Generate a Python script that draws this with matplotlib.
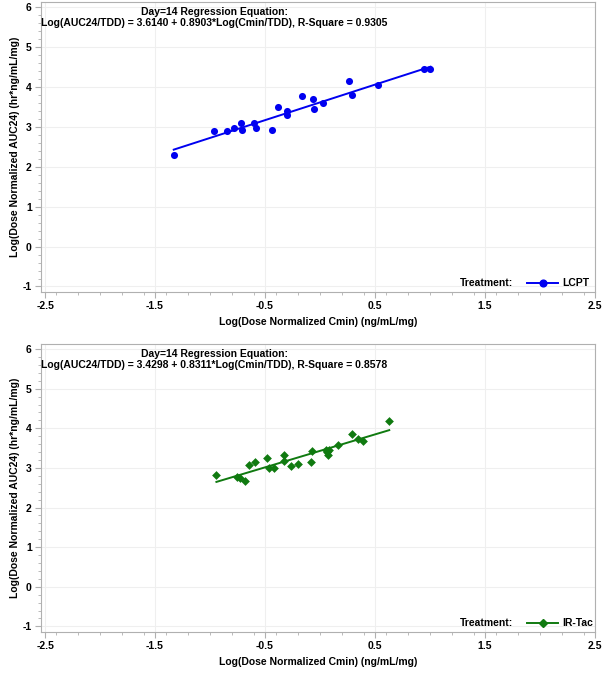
import numpy as np
import matplotlib.pyplot as plt
from matplotlib.ticker import MultipleLocator
from matplotlib.lines import Line2D

plt.rcParams["font.family"] = ["Liberation Sans", "DejaVu Sans"]
plt.rcParams["axes.unicode_minus"] = False

# LCPT, day 14
lcpt_x = [-1.33, -0.963, -0.842, -0.779, -0.718, -0.707, -0.604, -0.586, -0.432,
          -0.383, -0.296, -0.299, -0.160, -0.064, -0.057, 0.030, 0.263, 0.290,
          0.525, 0.945, 1.005]
lcpt_y = [2.30, 2.89, 2.89, 2.97, 3.09, 2.91, 3.09, 2.96, 2.92,
          3.49, 3.41, 3.29, 3.78, 3.69, 3.46, 3.59, 4.15, 3.79,
          4.06, 4.45, 4.44]
lcpt_fit = (3.6140, 0.8903, 0.9305)

# IR-Tac, day 14
irtac_x = [-0.942, -0.752, -0.730, -0.682, -0.645, -0.591, -0.479, -0.467, -0.421,
           -0.327, -0.327, -0.264, -0.203, -0.079, -0.076, 0.055, 0.070, 0.082,
           0.065, 0.167, 0.288, 0.345, 0.388, 0.630]
irtac_y = [2.81, 2.77, 2.74, 2.67, 3.07, 3.14, 3.25, 3.01, 3.00,
           3.33, 3.18, 3.04, 3.10, 3.16, 3.43, 3.44, 3.33, 3.46,
           3.39, 3.59, 3.86, 3.72, 3.69, 4.18]
irtac_fit = (3.4298, 0.8311, 0.8578)

xticks = [-2.5, -1.5, -0.5, 0.5, 1.5, 2.5]
yticks = [-1, 0, 1, 2, 3, 4, 5, 6]

FRAME = "#b0b0b0"


def panel(ax, x, y, fit, color, marker, ms, label):
    b0, b1, r2 = fit
    ax.scatter(x, y, s=ms, marker=marker, color=color, zorder=3, linewidths=0)
    xs = np.array([min(x), max(x)])
    ax.plot(xs, b0 + b1 * xs, color=color, lw=1.4, zorder=2)

    ax.set_xlim(-2.54, 2.5)
    ax.set_ylim(-1.14, 6.13)
    ax.set_xticks(xticks)
    ax.set_yticks(yticks)
    ax.set_xticklabels([f"{t:g}" for t in xticks])
    ax.xaxis.set_minor_locator(MultipleLocator(0.2))
    ax.yaxis.set_minor_locator(MultipleLocator(0.2))
    ax.grid(True, which="major", color="#efefef", lw=0.8)
    ax.set_axisbelow(True)
    for s in ax.spines.values():
        s.set_color(FRAME)
        s.set_linewidth(0.8)
    ax.tick_params(which="major", length=4, color=FRAME, labelsize=7.5, pad=2.5)
    ax.tick_params(which="minor", length=2, color=FRAME)
    for t in ax.get_xticklabels() + ax.get_yticklabels():
        t.set_fontweight("bold")

    ax.set_xlabel("Log(Dose Normalized Cmin) (ng/mL/mg)", fontsize=7.5,
                  fontweight="bold", labelpad=4)
    ax.set_ylabel("Log(Dose Normalized AUC24) (hr*ng/mL/mg)", fontsize=7.5,
                  fontweight="bold", labelpad=2)

    ax.text(0.313, 0.966, "Day=14 Regression Equation:", transform=ax.transAxes,
            ha="center", va="center", fontsize=7.5, fontweight="bold")
    ax.text(0.313, 0.928,
            f"Log(AUC24/TDD) = {b0:.4f} + {b1:.4f}*Log(Cmin/TDD), R-Square = {r2:.4f}",
            transform=ax.transAxes, ha="center", va="center", fontsize=7.5,
            fontweight="bold")

    # legend: "Treatment:" + line sample + label
    ly = 0.031
    ax.text(0.852, ly, "Treatment:", transform=ax.transAxes, ha="right",
            va="center", fontsize=7.5, fontweight="bold")
    ax.add_line(Line2D([0.877, 0.933], [ly, ly], transform=ax.transAxes,
                       color=color, lw=1.4))
    ax.plot([0.906], [ly], transform=ax.transAxes, marker=marker, color=color,
            ms=np.sqrt(ms) * 0.95, mec=color, lw=0, clip_on=False)
    ax.text(0.942, ly, label, transform=ax.transAxes, ha="left",
            va="center", fontsize=7.5, fontweight="bold")


fig = plt.figure(figsize=(6.03, 6.73), dpi=100)
ax1 = fig.add_axes([0.0675, 0.566, 0.919, 0.431])
ax2 = fig.add_axes([0.0675, 0.061, 0.919, 0.428])

panel(ax1, lcpt_x, lcpt_y, lcpt_fit, "#0000f0", "o", 26, "LCPT")
panel(ax2, irtac_x, irtac_y, irtac_fit, "#107a10", "D", 20, "IR-Tac")

fig.savefig("out.png", dpi=100)
